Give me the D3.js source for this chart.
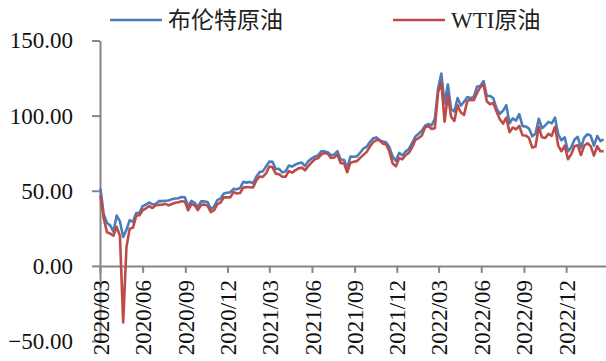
<!DOCTYPE html>
<html>
<head>
<meta charset="utf-8">
<script src="https://cdn.jsdelivr.net/npm/d3@7"></script>
<style>
  body { margin: 0; background: #fff; }
  svg text { font-family: "Liberation Serif", "Times New Roman", "Noto Sans CJK SC", serif; }
</style>
</head>
<body>
<svg id="chart" width="606" height="361"></svg>
<script>
//series names
var seriesNames = ["布伦特原油", "WTI原油"];
//weekly samples, first one is the week of 2020/03/02
var firstWeek = "2020/03/02";
var brent = [
  //2020 Mar-Dec
  51.5, 34.4, 28.5, 27.0, 22.8,
  33.5, 29.6, 19.3, 24.0,
  30.5, 29.2, 35.1, 35.3,
  39.8, 40.8, 42.2, 41.0, 41.2,
  43.1, 43.1, 43.3, 43.5,
  44.4, 44.8, 45.0, 45.8, 45.6,
  39.8, 43.2, 41.9, 39.3,
  42.9, 42.9, 42.5, 37.9,
  39.5, 43.8, 44.9, 48.2, 48.7,
  49.0, 51.3, 50.9, 51.8,
  //2021
  55.9, 55.4, 55.9, 55.0,
  59.3, 62.4, 62.9, 66.1,
  69.4, 69.2, 64.5, 64.6, 62.2,
  62.9, 66.8, 66.1, 67.3,
  68.3, 68.7, 66.4, 69.6, 71.4,
  72.7, 73.5, 76.2, 76.2,
  75.6, 73.6, 74.1, 76.3,
  70.7, 70.6, 65.2, 72.7, 72.6,
  72.9, 75.3, 78.1, 79.3,
  82.4, 84.9, 85.5, 83.7,
  82.7, 82.2, 78.9, 72.7, 69.9,
  75.2, 73.5, 76.1, 77.8,
  //2022
  81.8, 86.1, 87.9, 90.0, 93.3,
  94.4, 93.5, 97.9, 118.1,
  128.0, 107.9, 120.7, 104.4,
  102.8, 111.7, 106.7, 109.3,
  112.4, 111.6, 112.6, 119.4, 119.7,
  123.0, 113.1, 113.1, 111.6,
  104.6, 101.2, 103.2, 107.0,
  94.9, 98.2, 96.7, 101.0, 93.0,
  92.8, 91.4, 86.2, 88.0,
  97.9, 91.6, 93.5, 95.8, 94.8,
  98.6, 87.6, 83.6, 85.6,
  76.1, 79.0, 83.9, 85.9,
  //2023 Jan-Feb
  78.6, 85.3, 87.6, 86.7, 80.0,
  86.4, 83.0, 84.2
];
var wti = [
  //2020 Mar-Dec
  47.0, 31.7, 22.4, 21.5, 20.1,
  26.0, 19.9, -37.6, 12.3,
  24.7, 25.3, 33.3, 33.7,
  37.0, 38.2, 39.8, 38.5, 40.3,
  40.6, 40.7, 41.3, 40.3,
  41.2, 42.0, 42.3, 43.0, 42.8,
  37.0, 41.1, 40.3, 37.1,
  40.6, 40.9, 39.9, 35.8,
  37.1, 41.1, 42.2, 45.7, 45.6,
  45.6, 49.1, 48.2, 48.5,
  //2021
  52.2, 52.4, 52.3, 52.2,
  56.9, 59.5, 59.2, 61.5,
  66.1, 65.6, 61.4, 61.0, 59.3,
  59.3, 63.1, 62.1, 63.6,
  64.9, 65.4, 63.6, 66.3, 68.8,
  70.9, 71.6, 74.0, 75.2,
  74.6, 71.8, 72.1, 73.9,
  68.3, 68.4, 62.3, 68.7, 69.3,
  69.7, 71.9, 73.9, 75.9,
  79.4, 82.3, 83.8, 83.6,
  81.3, 80.8, 76.1, 68.2, 66.3,
  71.7, 70.9, 73.8, 75.2,
  //2022
  78.9, 83.8, 85.1, 86.8, 92.3,
  93.1, 91.1, 91.6, 115.7,
  122.0, 96.0, 113.9, 99.3,
  96.5, 106.9, 102.1, 100.5,
  109.8, 110.5, 110.3, 115.1, 118.9,
  120.7, 109.6, 107.6, 108.4,
  102.7, 97.6, 94.7, 98.6,
  89.0, 92.1, 90.8, 93.1, 86.9,
  86.8, 85.1, 78.7, 79.5,
  92.6, 85.6, 85.1, 87.9, 86.5,
  92.6, 80.1, 76.3, 80.0,
  71.0, 74.3, 79.6, 80.3,
  //2023 Jan-Feb
  73.8, 79.9, 81.6, 79.7, 73.4,
  79.7, 76.3, 76.3
];
var xTickLabels = ["2020/03", "2020/06", "2020/09", "2020/12", "2021/03", "2021/06",
  "2021/09", "2021/12", "2022/03", "2022/06", "2022/09", "2022/12"];
var yTicks = [-50, 0, 50, 100, 150];

var colors = ["#4a7ebb", "#be4b48"];
var axisColor = "#868686";

var svg = d3.select("#chart");
var parseMonth = d3.timeParse("%Y/%m");
var parseDay = d3.timeParse("%Y/%m/%d");
var start = parseDay(firstWeek);

//x scale: 2020/03/01 sits on the y axis, the axis runs to the right edge
var x = d3.scaleTime()
    .domain([parseDay("2020/03/01"), parseDay("2023/02/25")])
    .range([100, 606]);
var y = d3.scaleLinear()
    .domain([-50, 150])
    .range([341, 40.5]);

function toPoints(values) {
    return values.map(function (v, i) {
        return { date: d3.timeDay.offset(start, i * 7), value: v };
    });
}

//y axis
var yaxis = svg.append("g")
    .attr("transform", "translate(" + x.range()[0] + ",0)")
    .call(d3.axisLeft(y).tickValues(yTicks).tickFormat(d3.format(".2f"))
        .tickSize(8).tickSizeOuter(0).tickPadding(19));
yaxis.selectAll("path, line").attr("stroke", axisColor).attr("stroke-width", 2);
yaxis.selectAll("text").attr("font-size", 23).attr("fill", "#111");

//x axis at zero
var xaxis = svg.append("g")
    .attr("transform", "translate(0," + y(0) + ")")
    .call(d3.axisBottom(x).tickValues(xTickLabels.map(parseMonth))
        .tickFormat(d3.timeFormat("%Y/%m")).tickSize(7).tickSizeOuter(0));
xaxis.selectAll("path, line").attr("stroke", axisColor).attr("stroke-width", 2);
xaxis.selectAll("text")
    .attr("font-size", 23)
    .attr("fill", "#111")
    .attr("transform", "rotate(-90)")
    .attr("text-anchor", "end")
    .attr("x", -14)
    .attr("y", 0)
    .attr("dy", "0.35em");

//lines
var line = d3.line()
    .x(function (d) { return x(d.date); })
    .y(function (d) { return y(d.value); });

[brent, wti].forEach(function (s, i) {
    svg.append("path")
        .datum(toPoints(s))
        .attr("fill", "none")
        .attr("stroke", colors[i])
        .attr("stroke-width", 2.6)
        .attr("stroke-linejoin", "round")
        .attr("d", line);
});

//legend
var legendX = [110, 393];
seriesNames.forEach(function (name, i) {
    var lg = svg.append("g").attr("transform", "translate(" + legendX[i] + ",20)");
    lg.append("line")
        .attr("x1", 0).attr("x2", 52)
        .attr("stroke", colors[i]).attr("stroke-width", 2.4);
    lg.append("text")
        .attr("x", 58)
        .attr("dy", "0.36em")
        .attr("font-size", 23)
        .attr("fill", "#222")
        .text(name);
});
</script>
</body>
</html>
